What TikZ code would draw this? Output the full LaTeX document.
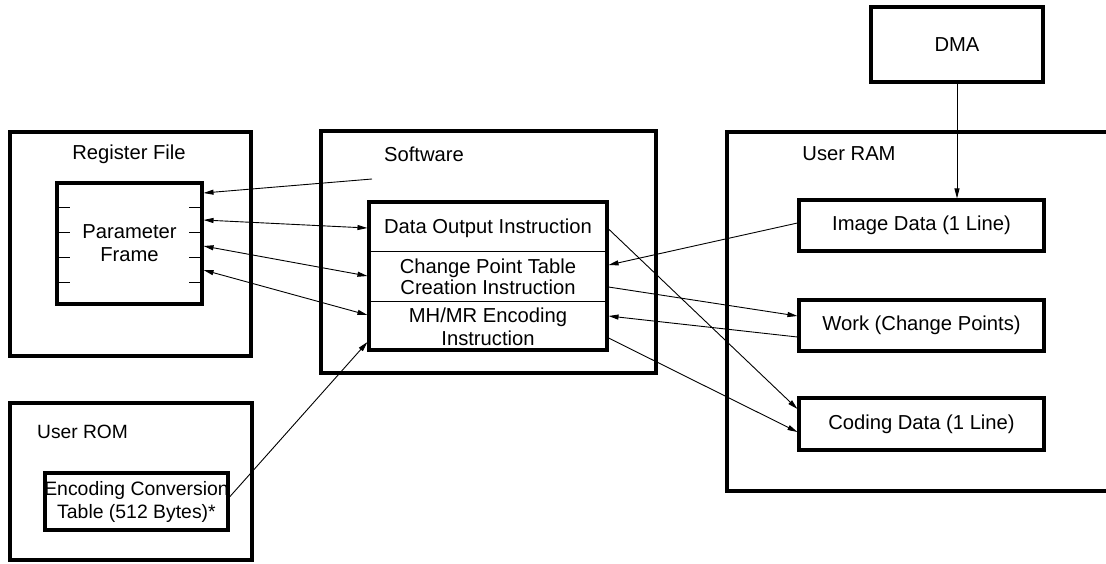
\documentclass[tikz,border=0pt]{standalone}
\usepackage{fontspec}
\setmainfont{Liberation Sans}
\usetikzlibrary{arrows.meta}
\begin{document}
\begin{tikzpicture}[x=1pt,y=-1pt,
  font=\fontsize{20.2}{23}\selectfont,
  box/.style={draw,line width=3.1pt,rectangle,inner sep=0pt},
  lbl/.style={inner sep=0pt,align=center},
  conn/.style={line width=0.9pt,-{Triangle[length=10pt,width=5pt]}},
  dconn/.style={line width=0.9pt,{Triangle[length=10pt,width=5pt]}-{Triangle[length=10pt,width=5pt]}},
  thin/.style={line width=0.9pt}]
\clip (0,0) rectangle (1106,563);
\useasboundingbox (0,0) rectangle (1106,563);
% containers
\node[box,minimum width=241pt,minimum height=224pt] (regfile) at (130.5,244) {};
\node[box,minimum width=145pt,minimum height=121pt] (param) at (129.5,243.5) {};
\node[box,minimum width=335pt,minimum height=242pt] (software) at (488.5,252) {};
\node[box,minimum width=238pt,minimum height=148pt] (instr) at (488,276) {};
\node[box,minimum width=242pt,minimum height=157pt] (userrom) at (131,481.5) {};
\node[box,minimum width=183pt,minimum height=57pt] (enc) at (136.5,501.5) {};
\node[box,minimum width=393pt,minimum height=359pt] (userram) at (923.5,311.5) {};
\node[box,minimum width=172pt,minimum height=75pt] (dma) at (957,44.5) {DMA};
\node[box,minimum width=245pt,minimum height=51pt] (image) at (921.5,225.5) {Image Data (1 Line)};
\node[box,minimum width=245pt,minimum height=51pt] (work) at (921.5,325.5) {Work (Change Points)};
\node[box,minimum width=245pt,minimum height=52pt] (coding) at (921.5,424) {Coding Data (1 Line)};
% labels
\node[lbl] (lregfile) at (129,154) {Register File};
\node[lbl] (lsoftware) at (424,154) {Software};
\node[lbl] (luserram) at (849,154) {User RAM};
\node[lbl,anchor=west,font=\fontsize{19.2}{22}\selectfont] (luserrom) at (37,432) {User ROM};
\node[lbl,font=\fontsize{19.4}{23}\selectfont] (lenc) at (enc.center) {Encoding Conversion\\Table (512 Bytes)*};
\node[lbl] (lparam) at (param.center) {Parameter\\Frame};
\node[lbl] (ldata) at (488,228) {Data Output Instruction};
\node[lbl,font=\fontsize{20.2}{21}\selectfont] (lchange) at (488,276.5) {Change Point Table\\Creation Instruction};
\node[lbl,font=\fontsize{20.2}{23}\selectfont] (lmh) at (488,326.5) {MH/MR Encoding\\Instruction};
% dividers in instruction box
\draw[thin] (instr.west |- 0,251) -- (instr.east |- 0,251);
\draw[thin] (instr.west |- 0,301) -- (instr.east |- 0,301);
% ticks on parameter frame
\foreach \yy in {207,232,257,282}{
  \draw[thin] (param.west |- 0,\yy) -- ++(15,0);
  \draw[thin] (param.east |- 0,\yy) -- ++(-15,0);
}
% connectors
\coordinate (swsrc) at (372,179);
\draw[conn] (swsrc) -- (param.east |- 0,193);
\draw[dconn] (param.east |- 0,220) -- (instr.west |- 0,228);
\draw[dconn] (param.east |- 0,246) -- (instr.west |- 0,276);
\draw[dconn] (param.east |- 0,270) -- (instr.west |- 0,315);
\draw[conn] (enc.east |- 0,497) -- (instr.west |- 0,342);
\draw[conn] (dma.south) -- (image.north -| dma.south);
\draw[conn] (image.west |- 0,223) -- (instr.east |- 0,265);
\draw[conn] (instr.east |- 0,287) -- (work.west |- 0,316);
\draw[conn] (work.west |- 0,337) -- (instr.east |- 0,316);
\draw[conn] (instr.east |- 0,338) -- (coding.west |- 0,432);
\draw[conn] (instr.east |- 0,229) -- (coding.west |- 0,409);
\end{tikzpicture}
\end{document}
